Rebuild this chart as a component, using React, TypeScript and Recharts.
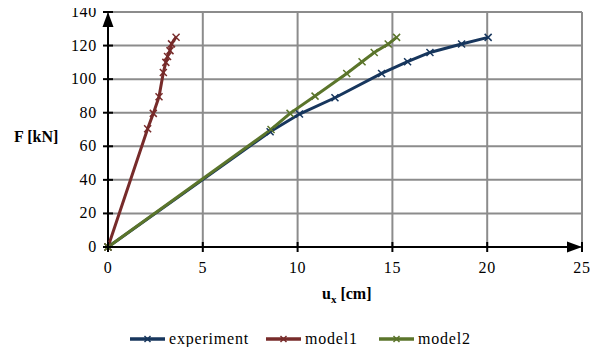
import * as React from "react";
import { LineChart, Line, XAxis, YAxis, CartesianGrid, ReferenceLine } from "recharts";

type Pt = { x: number; y: number };

const experiment: Pt[] = [
  { x: 0, y: 0 },
  { x: 8.55, y: 68.7 },
  { x: 10.1, y: 79.2 },
  { x: 11.97, y: 88.9 },
  { x: 14.43, y: 103.4 },
  { x: 15.8, y: 110.4 },
  { x: 16.98, y: 115.9 },
  { x: 18.65, y: 120.9 },
  { x: 20.05, y: 124.9 },
];

const model1: Pt[] = [
  { x: 0, y: 0 },
  { x: 2.09, y: 70.5 },
  { x: 2.39, y: 79.6 },
  { x: 2.69, y: 89.5 },
  { x: 2.92, y: 104 },
  { x: 3.05, y: 110 },
  { x: 3.14, y: 113.5 },
  { x: 3.27, y: 117 },
  { x: 3.35, y: 121 },
  { x: 3.59, y: 125 },
];

const model2: Pt[] = [
  { x: 0, y: 0 },
  { x: 8.6, y: 70 },
  { x: 9.6, y: 79.6 },
  { x: 10.92, y: 89.9 },
  { x: 12.59, y: 103.4 },
  { x: 13.4, y: 110.4 },
  { x: 14.04, y: 115.9 },
  { x: 14.78, y: 120.9 },
  { x: 15.22, y: 124.9 },
];

const xTicks = [0, 5, 10, 15, 20, 25];
const yTicks = [0, 20, 40, 60, 80, 100, 120, 140];

const series = [
  { name: "experiment", color: "#17365D", data: experiment, legendLeft: 129 },
  { name: "model1", color: "#772B2A", data: model1, legendLeft: 265 },
  { name: "model2", color: "#5B752B", data: model2, legendLeft: 378 },
];

const FONT = "'Times New Roman', Times, 'Liberation Serif', 'DejaVu Serif', 'Noto Serif', serif";

function XMark(props: any) {
  const { cx, cy, stroke } = props;
  if (cx == null || cy == null) return null;
  const s = 3.5;
  return (
    <g>
      <line x1={cx - s} y1={cy - s} x2={cx + s} y2={cy + s} stroke={stroke} strokeWidth={1.5} />
      <line x1={cx - s} y1={cy + s} x2={cx + s} y2={cy - s} stroke={stroke} strokeWidth={1.5} />
    </g>
  );
}

function YTick(props: any) {
  const { x, y, payload } = props;
  return (
    <g>
      <line x1={x - 5} y1={y} x2={x + 5} y2={y} stroke="#000" strokeWidth={2} />
      <text
        x={x - 11}
        y={y}
        dy={5}
        textAnchor="end"
        fontSize={16}
        letterSpacing={0.7}
        style={{ fontFamily: FONT }}
        fill="#000"
      >
        {payload.value}
      </text>
    </g>
  );
}

function XTick(props: any) {
  const { x, y, payload } = props;
  return (
    <g>
      <line x1={x} y1={y - 5} x2={x} y2={y + 5} stroke="#000" strokeWidth={2} />
      <text
        x={x}
        y={y + 26}
        textAnchor="middle"
        fontSize={16}
        letterSpacing={0.7}
        style={{ fontFamily: FONT }}
        fill="#000"
      >
        {payload.value}
      </text>
    </g>
  );
}

function Arrow(props: any) {
  const { x1, y1, x2, y2 } = props;
  const dx = x2 - x1;
  const dy = y2 - y1;
  const len = Math.sqrt(dx * dx + dy * dy) || 1;
  const ux = dx / len;
  const uy = dy / len;
  const L = 15;
  const W = 5.5;
  const bx = x2 - ux * L;
  const by = y2 - uy * L;
  const pts = `${x2},${y2} ${bx - uy * W},${by + ux * W} ${bx + uy * W},${by - ux * W}`;
  return (
    <g>
      <line x1={x1} y1={y1} x2={bx} y2={by} stroke="#000" strokeWidth={2} />
      <polygon points={pts} fill="#000" />
    </g>
  );
}

export default function App() {
  return (
    <div
      style={{
        position: "relative",
        width: 600,
        height: 355,
        margin: -8,
        fontFamily: FONT,
        background: "#fff",
      }}
    >
      <LineChart
        width={600}
        height={308}
        margin={{ top: 12, right: 18, bottom: 11, left: 0 }}
      >
        <CartesianGrid stroke="#8C8C8C" strokeWidth={2} horizontalValues={yTicks} verticalValues={xTicks} />
        <XAxis
          type="number"
          dataKey="x"
          domain={[0, 25]}
          ticks={xTicks}
          axisLine={false}
          tickLine={false}
          tickSize={0}
          tickMargin={0}
          tick={<XTick />}
          height={50}
          interval={0}
        />
        <YAxis
          type="number"
          dataKey="y"
          domain={[0, 140]}
          ticks={yTicks}
          axisLine={false}
          tickLine={false}
          tickSize={0}
          tickMargin={0}
          tick={<YTick />}
          width={108}
          interval={0}
        />
        <ReferenceLine
          segment={[{ x: 0, y: 0 }, { x: 25, y: 0 }]}
          ifOverflow="visible"
          shape={<Arrow />}
        />
        <ReferenceLine
          segment={[{ x: 0, y: 0 }, { x: 0, y: 140 }]}
          ifOverflow="visible"
          shape={<Arrow />}
        />
        {series.map((s) => (
          <Line
            key={s.name}
            data={s.data}
            dataKey="y"
            name={s.name}
            type="linear"
            stroke={s.color}
            strokeWidth={3}
            dot={<XMark stroke={s.color} />}
            activeDot={false}
            isAnimationActive={false}
          />
        ))}
      </LineChart>
      <div
        style={{
          position: "absolute",
          left: 14,
          top: 128,
          fontSize: 16,
          fontWeight: "bold",
          whiteSpace: "nowrap",
        }}
      >
        F [kN]
      </div>
      <div
        style={{
          position: "absolute",
          left: 322,
          top: 285,
          fontSize: 16,
          fontWeight: "bold",
          whiteSpace: "nowrap",
        }}
      >
        u<sub style={{ fontSize: 11 }}>x</sub> [cm]
      </div>
      {series.map((s) => (
        <div
          key={s.name}
          style={{
            position: "absolute",
            left: s.legendLeft,
            top: 330,
            display: "flex",
            alignItems: "center",
            gap: 3,
            fontSize: 16,
            letterSpacing: 0.8,
            whiteSpace: "nowrap",
          }}
        >
          <svg width={37} height={10}>
            <line x1={1} y1={5} x2={36} y2={5} stroke={s.color} strokeWidth={3.5} />
            <line x1={15.5} y1={2} x2={21.5} y2={8} stroke={s.color} strokeWidth={1.5} />
            <line x1={15.5} y1={8} x2={21.5} y2={2} stroke={s.color} strokeWidth={1.5} />
          </svg>
          <span>{s.name}</span>
        </div>
      ))}
    </div>
  );
}
